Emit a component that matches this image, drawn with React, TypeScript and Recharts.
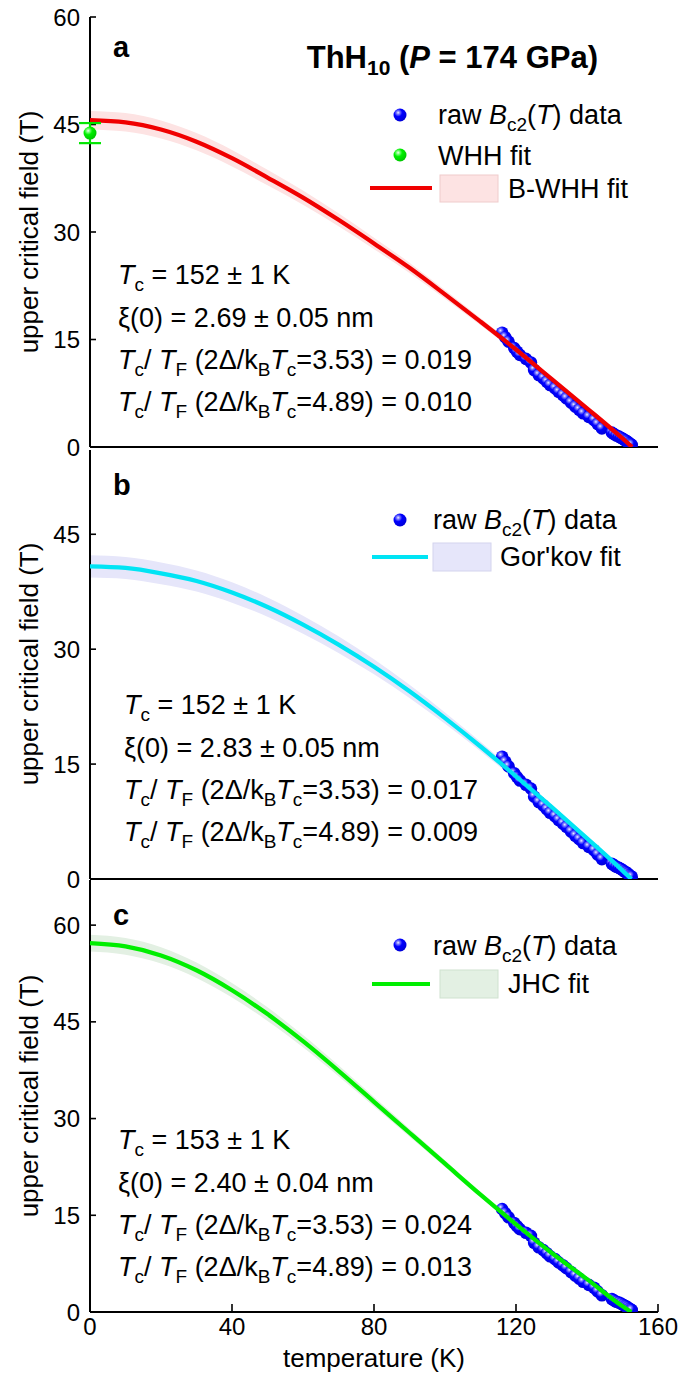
import React from 'react';
import { ComposedChart, XAxis, YAxis, Area, Line, Scatter, ErrorBar } from 'recharts';

const FONT = '"Liberation Sans", Arial, Helvetica, sans-serif';
const W = 679;

// raw Bc2(T) points, same set in all three panels
const rawT = [116.1, 117.0, 117.9, 119.5, 120.3, 121.1, 122.8, 124.2, 125.1, 126.4, 127.7, 128.7, 129.6, 131.0, 132.0, 133.2, 134.2, 135.5, 136.7, 137.8, 138.9, 140.5, 142.0, 143.0, 144.2, 147.0, 147.6, 148.3, 149.0, 149.6, 150.2, 150.7, 151.1, 151.5, 151.9, 152.3, 152.6];
const rawB = [15.95, 15.3, 14.7, 13.8, 13.3, 12.85, 12.3, 11.8, 10.75, 10.05, 9.6, 9.1, 8.65, 8.2, 7.7, 7.25, 6.8, 6.2, 5.65, 5.2, 4.7, 4.2, 3.75, 3.2, 2.6, 2.0, 1.8, 1.6, 1.45, 1.3, 1.1, 0.95, 0.85, 0.7, 0.5, 0.4, 0.3];

// fit curves read every 10 K, plus the Tc end point
const fitT = [0, 10, 20, 30, 40, 50, 60, 70, 80, 90, 100, 110, 120, 130, 140, 150];

const bwhhB = [45.6, 45.3, 44.3, 42.6, 40.3, 37.6, 34.8, 31.7, 28.4, 25.0, 21.3, 17.5, 13.6, 9.5, 5.4, 1.2];
const bwhhBand = [1.3, 1.29, 1.26, 1.21, 1.15, 1.07, 0.99, 0.9, 0.81, 0.71, 0.61, 0.5, 0.39, 0.27, 0.15, 0.03];
const bwhhTc = 152.7;

const gorkovB = [40.8, 40.6, 39.9, 38.9, 37.4, 35.5, 33.2, 30.6, 27.7, 24.5, 21.0, 17.3, 13.4, 9.4, 5.3, 1.1];
const gorkovBand = [1.45, 1.44, 1.42, 1.38, 1.33, 1.26, 1.18, 1.09, 0.98, 0.87, 0.75, 0.61, 0.48, 0.33, 0.19, 0.04];
const gorkovTc = 152.5;

const jhcB = [57.2, 56.7, 55.3, 53.0, 49.9, 46.2, 42.0, 37.4, 32.6, 27.8, 23.0, 18.2, 13.6, 9.2, 5.1, 0.9];
const jhcBand = [1.3, 1.29, 1.26, 1.2, 1.13, 1.05, 0.95, 0.85, 0.74, 0.63, 0.52, 0.41, 0.31, 0.21, 0.12, 0.02];
const jhcTc = 152.5;

// WHH value at T = 0 with its error
const whhT = [0];
const whhB = [43.8];
const whhErr = [1.4];

const xTicks = [0, 40, 80, 120, 160];
const yTicksA = [0, 15, 30, 45, 60];
const yTicksB = [0, 15, 30, 45];
const yTicksC = [0, 15, 30, 45, 60];

const rawData = rawT.map((T, i) => ({ T, B: rawB[i] }));
const whhData = whhT.map((T, i) => ({ T, B: whhB[i], err: whhErr[i] }));

const buildFit = (vals: number[], band: number[], tc: number) =>
  fitT
    .map((T, i) => ({ T, B: vals[i], band: [vals[i] - band[i], vals[i] + band[i]] }))
    .concat([{ T: tc, B: 0, band: [0, 0] }]);

const fitA = buildFit(bwhhB, bwhhBand, bwhhTc);
const fitB = buildFit(gorkovB, gorkovBand, gorkovTc);
const fitC = buildFit(jhcB, jhcBand, jhcTc);

const blueBall = (p: any) => <circle cx={p.cx} cy={p.cy} r={6.3} fill="url(#ballBlue)" />;
const greenBall = (p: any) => <circle cx={p.cx} cy={p.cy} r={6.5} fill="url(#ballGreen)" />;

const axisLine = { stroke: '#000', strokeWidth: 2 };
const tickLine = { stroke: '#000', strokeWidth: 1.6 };
const tickFont = { fontSize: 24, fill: '#000', fontFamily: FONT };

interface PanelProps {
  top: number;
  height: number;
  marginTop: number;
  xAxisH: number;
  yMax: number;
  yTicks: number[];
  fit: any[];
  color: string;
  bandColor: string;
  showX: boolean;
  whh?: boolean;
}

function Panel({ top, height, marginTop, xAxisH, yMax, yTicks, fit, color, bandColor, showX, whh }: PanelProps) {
  return (
    <>
      {/* frame, band and raw data */}
      <div style={{ position: 'absolute', left: 0, top, width: W, height }}>
        <ComposedChart width={W} height={height} margin={{ top: marginTop, right: 21, bottom: 0, left: 0 }}>
          <XAxis
            dataKey="T"
            type="number"
            domain={[0, 160]}
            ticks={xTicks}
            interval={0}
            allowDataOverflow
            height={xAxisH}
            tickSize={-8}
            tickMargin={14}
            axisLine={axisLine}
            tickLine={tickLine}
            tick={showX ? tickFont : false}
          />
          <XAxis
            xAxisId="top"
            orientation="top"
            dataKey="T"
            type="number"
            domain={[0, 160]}
            ticks={xTicks}
            interval={0}
            height={0}
            tickSize={-8}
            axisLine={axisLine}
            tickLine={tickLine}
            tick={false}
          />
          <YAxis
            type="number"
            domain={[0, yMax]}
            ticks={yTicks}
            interval={0}
            allowDataOverflow
            width={90}
            tickSize={-6}
            tickMargin={16}
            axisLine={axisLine}
            tickLine={tickLine}
            tick={tickFont}
          />
          <YAxis
            yAxisId="right"
            orientation="right"
            type="number"
            domain={[0, yMax]}
            ticks={yTicks}
            interval={0}
            width={0}
            tickSize={-6}
            axisLine={axisLine}
            tickLine={tickLine}
            tick={false}
          />
          <Area data={fit} dataKey="band" type="monotone" fill={bandColor} fillOpacity={1} stroke="none" isAnimationActive={false} />
          <Scatter data={rawData} dataKey="B" shape={blueBall} isAnimationActive={false} />
        </ComposedChart>
      </div>
      {/* fit line drawn above the points */}
      <div style={{ position: 'absolute', left: 0, top, width: W, height }}>
        <ComposedChart width={W} height={height} margin={{ top: marginTop, right: 21, bottom: xAxisH, left: 90 }}>
          <XAxis dataKey="T" type="number" domain={[0, 160]} hide />
          <YAxis type="number" domain={[0, yMax]} allowDataOverflow hide />
          <Line data={fit} dataKey="B" type="monotone" stroke={color} strokeWidth={4.3} dot={false} isAnimationActive={false} />
          {whh && (
            <Scatter data={whhData} dataKey="B" shape={greenBall} isAnimationActive={false}>
              <ErrorBar dataKey="err" direction="y" width={11} stroke="#00e600" strokeWidth={2.2} />
            </Scatter>
          )}
        </ComposedChart>
      </div>
    </>
  );
}

const txt = { fontFamily: FONT, fill: '#000' };
const FS = 27;
const SUB = 19;
const DY = 7;

function RawLabel({ x, y }: { x: number; y: number }) {
  return (
    <text x={x} y={y} fontSize={FS} {...txt}>
      raw <tspan fontStyle="italic">B</tspan>
      <tspan fontSize={SUB} dy={DY}>c2</tspan>
      <tspan dy={-DY}>(</tspan>
      <tspan fontStyle="italic">T</tspan>) data
    </text>
  );
}

function Stats({ x, y, tc, xi, r1, r2 }: { x: number; y: number; tc: string; xi: string; r1: string; r2: string }) {
  const ratio = (yy: number, g: string, r: string) => (
    <text x={x} y={yy} fontSize={FS} {...txt}>
      <tspan fontStyle="italic">T</tspan>
      <tspan fontSize={SUB} dy={DY}>c</tspan>
      <tspan dy={-DY}>/ </tspan>
      <tspan fontStyle="italic">T</tspan>
      <tspan fontSize={SUB} dy={DY}>F</tspan>
      <tspan dy={-DY}> (2Δ/k</tspan>
      <tspan fontSize={SUB} dy={DY}>B</tspan>
      <tspan dy={-DY} fontStyle="italic">T</tspan>
      <tspan fontSize={SUB} dy={DY}>c</tspan>
      <tspan dy={-DY}>={g}) = {r}</tspan>
    </text>
  );
  return (
    <g>
      <text x={x} y={y} fontSize={FS} {...txt}>
        <tspan fontStyle="italic">T</tspan>
        <tspan fontSize={SUB} dy={DY}>c</tspan>
        <tspan dy={-DY}> = {tc} ± 1 K</tspan>
      </text>
      <text x={x} y={y + 43} fontSize={FS} {...txt}>
        ξ(0) = {xi} nm
      </text>
      {ratio(y + 85, '3.53', r1)}
      {ratio(y + 127, '4.89', r2)}
    </g>
  );
}

function Overlay() {
  const yTitle = (cy: number) => (
    <text x={38} y={cy} fontSize={26} textAnchor="middle" transform={`rotate(-90 38 ${cy})`} {...txt}>
      upper critical field (T)
    </text>
  );
  return (
    <svg width={W} height={1389} style={{ position: 'absolute', left: 0, top: 0, pointerEvents: 'none' }}>
      {/* panel a */}
      <text x={113} y={57} fontSize={29} fontWeight="bold" {...txt}>a</text>
      <text x={598} y={68} fontSize={31} fontWeight="bold" textAnchor="end" {...txt}>
        ThH<tspan fontSize={21} dy={7}>10</tspan>
        <tspan dy={-7}> (</tspan>
        <tspan fontStyle="italic">P</tspan> = 174 GPa)
      </text>
      <circle cx={400} cy={115} r={6.5} fill="url(#ballBlue)" />
      <RawLabel x={438} y={124} />
      <circle cx={400} cy={155} r={6.5} fill="url(#ballGreen)" />
      <text x={438} y={165} fontSize={FS} {...txt}>WHH fit</text>
      <line x1={370} x2={432} y1={188} y2={188} stroke="#f00000" strokeWidth={4} />
      <rect x={440} y={175} width={58} height={27} fill="#fde3e3" stroke="#efcccc" />
      <text x={508} y={198} fontSize={FS} {...txt}>B-WHH fit</text>
      <Stats x={118} y={284} tc="152" xi="2.69 ± 0.05" r1="0.019" r2="0.010" />
      {yTitle(232)}

      {/* panel b */}
      <text x={113} y={495} fontSize={29} fontWeight="bold" {...txt}>b</text>
      <circle cx={400} cy={520} r={6.5} fill="url(#ballBlue)" />
      <RawLabel x={433} y={529} />
      <line x1={372} x2={428} y1={557} y2={557} stroke="#00e4f4" strokeWidth={4} />
      <rect x={433} y={543} width={58} height={28} fill="#e6e6fa" stroke="#d4d4ee" />
      <text x={500} y={566} fontSize={FS} {...txt}>Gor'kov fit</text>
      <Stats x={124} y={714} tc="152" xi="2.83 ± 0.05" r1="0.017" r2="0.009" />
      {yTitle(664)}

      {/* panel c */}
      <text x={113} y={925} fontSize={29} fontWeight="bold" {...txt}>c</text>
      <circle cx={400} cy={945} r={6.5} fill="url(#ballBlue)" />
      <RawLabel x={433} y={955} />
      <line x1={372} x2={430} y1={984} y2={984} stroke="#00ee00" strokeWidth={4} />
      <rect x={440} y={970} width={58} height={28} fill="#e3f0e3" stroke="#cfe2cf" />
      <text x={508} y={993} fontSize={FS} {...txt}>JHC fit</text>
      <Stats x={118} y={1149} tc="153" xi="2.40 ± 0.04" r1="0.024" r2="0.013" />
      {yTitle(1096)}

      <text x={374} y={1367} fontSize={26} textAnchor="middle" {...txt}>temperature (K)</text>
    </svg>
  );
}

export default function App() {
  return (
    <div style={{ position: 'absolute', left: 0, top: 0, width: W, height: 1389, background: '#fff' }}>
      <svg width={0} height={0} style={{ position: 'absolute' }}>
        <defs>
          <radialGradient id="ballBlue" cx="36%" cy="32%" r="68%">
            <stop offset="0%" stopColor="#f0f0ff" />
            <stop offset="18%" stopColor="#8080ff" />
            <stop offset="45%" stopColor="#0000ff" />
            <stop offset="100%" stopColor="#0000d8" />
          </radialGradient>
          <radialGradient id="ballGreen" cx="36%" cy="32%" r="68%">
            <stop offset="0%" stopColor="#f0fff0" />
            <stop offset="18%" stopColor="#80ff80" />
            <stop offset="45%" stopColor="#00f000" />
            <stop offset="100%" stopColor="#00c800" />
          </radialGradient>
        </defs>
      </svg>
      <Panel top={0} height={470} marginTop={17} xAxisH={23} yMax={60} yTicks={yTicksA} fit={fitA} color="#f00000" bandColor="#fde3e3" showX={false} whh />
      <Panel top={440} height={460} marginTop={10} xAxisH={21} yMax={56} yTicks={yTicksB} fit={fitB} color="#00e4f4" bandColor="#e6e6fa" showX={false} />
      <Panel top={870} height={519} marginTop={10} xAxisH={77} yMax={67} yTicks={yTicksC} fit={fitC} color="#00ee00" bandColor="#e3f0e3" showX />
      <Overlay />
    </div>
  );
}
